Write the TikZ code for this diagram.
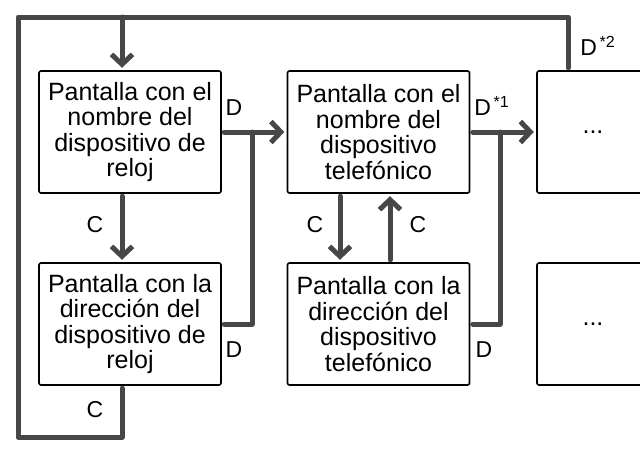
\documentclass[tikz,border=0pt]{standalone}
\usepackage{fontspec}
\setmainfont{Liberation Sans}
\usepackage{xcolor}
\usetikzlibrary{arrows.meta}
\definecolor{wire}{HTML}{474747}
\definecolor{frame}{HTML}{000000}
\tikzset{
  scr/.style={draw=frame, line width=0.8pt, rounded corners=1pt, minimum width=91pt,
    minimum height=61pt, align=center, inner sep=0pt, outer sep=1.6pt,
    font=\fontsize{12.5}{12.8}\selectfont},
  flow/.style={draw=wire, line width=2.5pt, line cap=round, line join=round},
  into/.style={-{Straight Barb[length=5pt,width=10.5pt]}},
  lab/.style={font=\fontsize{11.5}{13}\selectfont}
}

\begin{document}
\begin{tikzpicture}[x=0.5pt,y=-0.5pt]
  \useasboundingbox (0,0) rectangle (640,455);
  \clip (0,0) rectangle (640,455);

  % screens
  \node[scr] (nameW) at (130,132) {Pantalla con el\\nombre del\\dispositivo de\\reloj};
  \node[scr] (addrW) at (130,324) {Pantalla con la\\direcci\'on del\\dispositivo de\\reloj};
  \node[scr] (nameP) at (378.5,132) {Pantalla con el\\nombre del\\dispositivo\\telef\'onico};
  \node[scr] (addrP) at (378.5,324) {Pantalla con la\\direcci\'on del\\dispositivo\\telef\'onico};
  \node[scr, minimum width=56pt] (nextA) at (593,132) {...};
  \node[scr, minimum width=56pt] (nextB) at (593,324) {...};

  \coordinate (jA) at (252,132);
  \coordinate (jB) at (500,132);
  \coordinate (loopBL) at (18,437);
  \coordinate (loopTR) at (568,17);
  \coordinate (joinT) at (122,17);

  % C keys
  \draw[flow,into] ([xshift=-4pt]nameW.south) -- ([xshift=-4pt]addrW.north);
  \draw[flow,into] ([xshift=-19.25pt]nameP.south) -- ([xshift=-19.25pt]addrP.north);
  \draw[flow,into] ([xshift=5.75pt]addrP.north) -- ([xshift=5.75pt]nameP.south);

  % D keys
  \draw[flow,into] (nameW.east) -- (nameP.west);
  \draw[flow] (addrW.east) -| (jA);
  \draw[flow,into] (nameP.east) -- (nextA.west);
  \draw[flow] (addrP.east) -| (jB);

  % back to the start
  \draw[flow] ([xshift=-4pt]addrW.south) |- (loopBL) |- (loopTR) -- (loopTR |- nextA.north);
  \draw[flow,into] (joinT) -- ([xshift=-4pt]nameW.north);

  \node[lab] (cA) at (95,225) {C};
  \node[lab] (cB) at (315,225) {C};
  \node[lab] (cC) at (418,225) {C};
  \node[lab] (cD) at (95,410) {C};
  \node[lab] (dA) at (234,108) {D};
  \node[lab] (dB) at (234,350) {D};
  \node[lab] (dC) at (492,106) {D\textsuperscript{\,*1}};
  \node[lab] (dD) at (484,350) {D};
  \node[lab] (dE) at (598,46) {D\textsuperscript{\,*2}};
\end{tikzpicture}
\end{document}
